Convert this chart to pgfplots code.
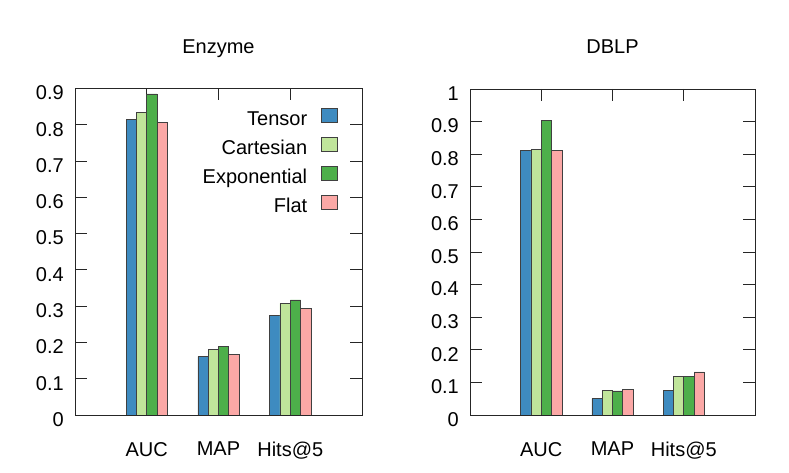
\documentclass[border=0pt]{standalone}
\usepackage{pgfplots}
\pgfplotsset{compat=1.18}
\usepackage{fontspec}
\setmainfont{Liberation Sans}
\definecolor{cTensor}{HTML}{3E8BC0}
\definecolor{cCart}{HTML}{C0E59B}
\definecolor{cExp}{HTML}{4DAF4A}
\definecolor{cFlat}{HTML}{FBA8A6}
\begin{document}
\fontsize{20}{24}\selectfont
\begin{tikzpicture}
\useasboundingbox (0pt,0pt) rectangle (789pt,473pt);
\pgfplotsset{
  myax/.style={
    scale only axis, anchor=south west,
    ymin=0, xmin=0, xmax=4,
    xtick={1,2,3}, xticklabels={AUC,MAP,Hits@5},
    ybar=0pt, bar width=10.3pt,
    major tick length=12pt, tick align=inside,
    axis line style={draw=black!85, line width=0.8pt},
    every tick/.style={draw=black!85, line width=0.8pt},
    /pgf/number format/assume math mode=true,
    yticklabel style={inner sep=0pt, xshift=-11pt, yshift=-4.5pt,
      /pgf/number format/fixed, /pgf/number format/precision=1},
    xticklabel style={inner sep=0pt, yshift=-27pt},
    title style={inner sep=0pt, anchor=base, at={(0.5,1)}, yshift=29pt},
    every axis plot/.append style={draw=black!75, line width=0.7pt},
    legend image code/.code={\draw[##1,/tikz/.cd] (0pt,-3.5pt) rectangle (16pt,10pt);},
  }
}
\begin{axis}[myax, at={(75pt,58pt)}, width=287pt, height=326.5pt,
  ymax=0.9, ytick={0,0.1,0.2,0.3,0.4,0.5,0.6,0.7,0.8,0.9},
  title={Enzyme},
  legend plot pos=right,
  legend cell align=right,
  legend style={draw=none, fill=none, inner sep=0pt, outer sep=0pt,
    at={(0.916,0.94)}, anchor=north east,
    nodes={inner sep=0pt, text height=14.3pt, text depth=0pt},
    /tikz/column sep=14pt, /tikz/row sep=11.6pt},
]
\addplot[fill=cTensor] coordinates {(1,0.814) (2,0.161) (3,0.274)};
\addplot[fill=cCart] coordinates {(1,0.835) (2,0.181) (3,0.308)};
\addplot[fill=cExp] coordinates {(1,0.885) (2,0.188) (3,0.317)};
\addplot[fill=cFlat] coordinates {(1,0.807) (2,0.167) (3,0.294)};
\legend{Tensor,Cartesian,Exponential,Flat}
\end{axis}
\begin{axis}[myax, at={(470pt,58pt)}, width=285pt, height=326pt,
  ymax=1, ytick={0,0.1,0.2,0.3,0.4,0.5,0.6,0.7,0.8,0.9,1},
  title={DBLP},
]
\addplot[fill=cTensor] coordinates {(1,0.812) (2,0.050) (3,0.076)};
\addplot[fill=cCart] coordinates {(1,0.815) (2,0.075) (3,0.119)};
\addplot[fill=cExp] coordinates {(1,0.903) (2,0.074) (3,0.119)};
\addplot[fill=cFlat] coordinates {(1,0.811) (2,0.079) (3,0.132)};
\end{axis}
\end{tikzpicture}
\end{document}
